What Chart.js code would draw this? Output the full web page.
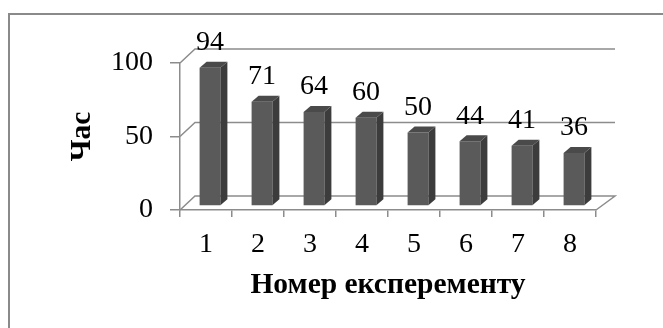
<!DOCTYPE html>
<html>
<head>
<meta charset="utf-8">
<script src="https://cdn.jsdelivr.net/npm/chart.js@4.4.1/dist/chart.umd.min.js"></script>
<style>
  html, body { margin: 0; padding: 0; background: #fff; }
  #wrap { width: 663px; height: 328px; position: relative; }
</style>
</head>
<body>
<div id="wrap"><canvas id="c" width="663" height="328"></canvas></div>
<script>
// Experiment durations
const categories = ['1', '2', '3', '4', '5', '6', '7', '8'];
const hours = [94, 71, 64, 60, 50, 44, 41, 36];
const yTicks = [0, 50, 100];
const yTitle = 'Час';
const xTitle = 'Номер експеременту';

const SERIF = '"Liberation Serif", "Times New Roman", serif';
const GRID = '#8c8c8c';
const FRONT = '#5a5a5a', TOP = '#4a4a4a', SIDE = '#3c3c3c';

// Pseudo 3-D: columns sit a little behind the front plane, walls recede further back
const BAR_SHIFT = { x: 4, y: -4 };
const BAR_DEPTH = { x: 7, y: -6 };
const WALL_DY = -14, WALL_DX_LEFT = 15, WALL_DX_RIGHT = 19;

const framePlugin = {
  id: 'frame',
  beforeDraw(chart) {
    const ctx = chart.ctx;
    ctx.save();
    ctx.strokeStyle = '#8a8a8a';
    ctx.lineWidth = 2;
    ctx.beginPath();
    ctx.moveTo(9, chart.height + 5);
    ctx.lineTo(9, 14);
    ctx.lineTo(chart.width + 5, 14);
    ctx.stroke();
    ctx.restore();
  }
};

const scene3d = {
  id: 'scene3d',
  beforeDatasetsDraw(chart) {
    const { ctx, chartArea: a, scales: { y } } = chart;
    // side wall + back wall gridlines, floor outline
    ctx.save();
    ctx.strokeStyle = GRID;
    ctx.lineWidth = 1.5;
    y.ticks.forEach(t => {
      const py = y.getPixelForValue(t.value);
      ctx.beginPath();
      ctx.moveTo(a.left, py);
      ctx.lineTo(a.left + WALL_DX_LEFT, py + WALL_DY);
      ctx.lineTo(a.right + WALL_DX_RIGHT, py + WALL_DY);
      if (t.value === y.min) ctx.lineTo(a.right, py);
      ctx.stroke();
    });
    ctx.restore();
    // columns are drawn shifted back
    ctx.save();
    ctx.translate(BAR_SHIFT.x, BAR_SHIFT.y);
  },
  afterDatasetsDraw(chart) {
    const ctx = chart.ctx;
    const meta = chart.getDatasetMeta(0);
    const dx = BAR_DEPTH.x, dy = BAR_DEPTH.y;
    meta.data.forEach(bar => {
      const { x, y, base, width } = bar.getProps(['x', 'y', 'base', 'width'], true);
      const l = x - width / 2, r = x + width / 2;
      ctx.fillStyle = SIDE;
      ctx.beginPath();
      ctx.moveTo(r, y);
      ctx.lineTo(r + dx, y + dy);
      ctx.lineTo(r + dx, base + dy);
      ctx.lineTo(r, base);
      ctx.closePath();
      ctx.fill();
      ctx.fillStyle = TOP;
      ctx.beginPath();
      ctx.moveTo(l, y);
      ctx.lineTo(l + dx, y + dy);
      ctx.lineTo(r + dx, y + dy);
      ctx.lineTo(r, y);
      ctx.closePath();
      ctx.fill();
    });
    ctx.restore();

    // value labels above the columns
    ctx.save();
    ctx.font = '28px ' + SERIF;
    ctx.fillStyle = '#000';
    ctx.textAlign = 'center';
    ctx.textBaseline = 'middle';
    meta.data.forEach((bar, i) => {
      const { x, y } = bar.getProps(['x', 'y'], true);
      ctx.fillText(String(hours[i]), x + BAR_SHIFT.x, y + BAR_SHIFT.y - 25);
    });
    ctx.restore();
  }
};

new Chart(document.getElementById('c'), {
  type: 'bar',
  data: {
    labels: categories,
    datasets: [{
      data: hours,
      backgroundColor: FRONT,
      borderWidth: 0,
      barPercentage: 0.4,
      categoryPercentage: 1
    }]
  },
  options: {
    responsive: false,
    animation: false,
    layout: { padding: { top: 63, right: 67, bottom: 0, left: 0 } },
    plugins: { legend: { display: false }, tooltip: { enabled: false } },
    scales: {
      x: {
        grid: { offset: true, drawOnChartArea: false, tickLength: 7, color: GRID, lineWidth: 1.5 },
        border: { display: true, color: GRID, width: 1.5 },
        ticks: { font: { family: SERIF, size: 28 }, color: '#000', padding: 11, maxRotation: 0 },
        title: {
          display: true, text: xTitle, color: '#000',
          font: { family: SERIF, size: 29.5, weight: 'bold' },
          padding: { top: 0, bottom: 25 }
        },
        afterFit(s) { s.height = 118; }
      },
      y: {
        min: 0, max: 100,
        afterBuildTicks(s) { s.ticks = yTicks.map(v => ({ value: v })); },
        ticks: { font: { family: SERIF, size: 28 }, color: '#000', padding: 17 },
        grid: { drawOnChartArea: false, tickLength: 10, color: GRID, lineWidth: 1.5 },
        border: { display: true, color: GRID, width: 1.5 },
        title: {
          display: true, text: yTitle, color: '#000',
          font: { family: SERIF, size: 29.5, weight: 'bold' },
          padding: { top: 65, bottom: 0 }
        },
        afterFit(s) { s.width = 180; }
      }
    }
  },
  plugins: [framePlugin, scene3d]
});
</script>
</body>
</html>
